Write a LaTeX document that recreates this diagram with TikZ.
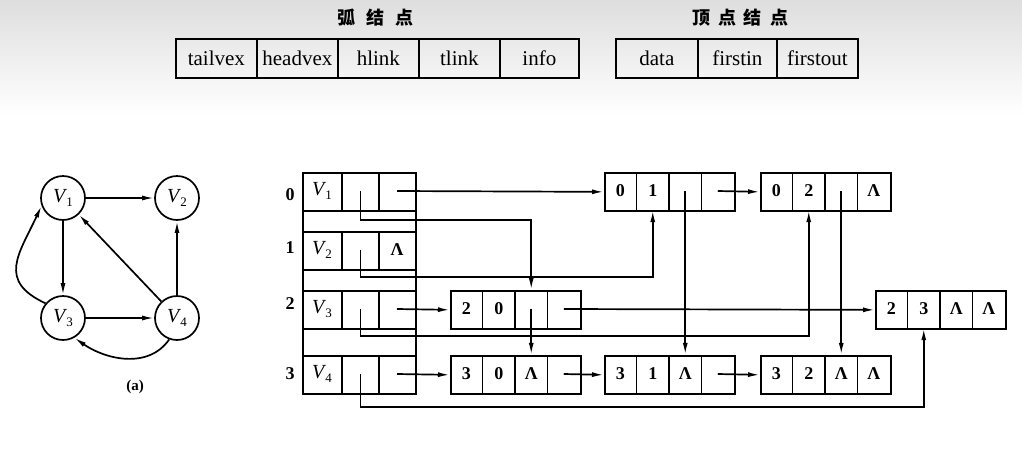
\documentclass[tikz,border=0pt]{standalone}
\usepackage{fontspec}
\setmainfont{Liberation Serif}
\newfontfamily\cjk{Noto Sans CJK SC}
\usetikzlibrary{arrows.meta}

\newcommand\NUL{\textbf{Λ}}
\newcommand\VV[1]{\textit{V}\kern-1pt\raisebox{-0.35ex}{\fontsize{13}{13}\selectfont #1}}
\newcommand\ListNode[7]{%
  \node[box, minimum width=130pt, minimum height=38pt, anchor=north west] (#1) at (#2,-#3) {};
  \foreach \k in {1,2,3}{\draw[ln] (#2+32.5*\k,-#3) -- (#2+32.5*\k,-#3-38);}
  \node[cellt, minimum width=32.5pt, dig] (#1-1) at (#2+16.25,-#3-19) {#4};
  \node[cellt, minimum width=32.5pt, dig] (#1-2) at (#2+48.75,-#3-19) {#5};
  \node[cellt, minimum width=32.5pt, dig] (#1-3) at (#2+81.25,-#3-19) {#6};
  \node[cellt, minimum width=32.5pt, dig] (#1-4) at (#2+113.75,-#3-19) {#7};
}
\newcommand\VRow[4]{%
  \node[box, minimum width=113pt, minimum height=38pt, anchor=north west] (#1) at (302,-#2) {};
  \draw[ln] (342,-#2) -- (342,-#2-38);
  \draw[ln] (379,-#2) -- (379,-#2-38);
  \node[cellt, minimum width=40pt, vlab] (#1-1) at (322,-#2-19) {#3};
  \node[cellt, minimum width=37pt] (#1-2) at (360.5,-#2-19) {};
  \node[cellt, minimum width=36pt, dig] (#1-3) at (397,-#2-19) {#4};
}

\begin{document}
\begin{tikzpicture}[x=1pt,y=1pt,
  box/.style={draw, line width=1.7pt, inner sep=0pt},
  cellt/.style={inner sep=0pt, minimum height=38pt},
  ln/.style={line width=1.7pt},
  ptr/.style={line width=1.7pt, -{Latex[length=12pt,width=5pt]}},
  vtx/.style={circle, draw, line width=1.7pt, minimum size=44pt, inner sep=0pt, font=\fontsize{20}{20}\selectfont},
  vlab/.style={font=\fontsize{20}{20}\selectfont},
  dig/.style={font=\fontsize{18}{18}\selectfont\bfseries},
  head/.style={box, minimum height=39pt, anchor=north west, font=\fontsize{21}{24}\selectfont},
  title/.style={font=\cjk\bfseries\fontsize{18}{18}\selectfont},
]
% background
\fill[white] (0,0) rectangle (1022,-453);
\shade[top color=black!13, bottom color=white] (0,0) rectangle (1022,-115);
\useasboundingbox (0,0) rectangle (1022,-453);

% top tables
\node[title] (t1) at (375,-18) {弧\hspace{11pt}结\hspace{11pt}点};
\node[title] (t2) at (740,-18) {顶\hspace{8pt}点\hspace{8pt}结\hspace{8pt}点};
\node[head, minimum width=81pt] (a1) at (175,-38) {tailvex};
\node[head, minimum width=81pt] (a2) at (256,-38) {headvex};
\node[head, minimum width=81pt] (a3) at (337,-38) {hlink};
\node[head, minimum width=81pt] (a4) at (418,-38) {tlink};
\node[head, minimum width=79pt] (a5) at (499,-38) {info};
\node[head, minimum width=82pt] (b1) at (615,-38) {data};
\node[head, minimum width=79pt] (b2) at (697,-38) {firstin};
\node[head, minimum width=81pt] (b3) at (776,-38) {firstout};

% graph (a)
\node[vtx] (V1) at (63,-198) {\VV{1}};
\node[vtx] (V2) at (177,-198) {\VV{2}};
\node[vtx] (V3) at (63,-318) {\VV{3}};
\node[vtx] (V4) at (177,-318) {\VV{4}};
\draw[ptr] (V1) -- (V2);
\draw[ptr] (V1) -- (V3);
\draw[ptr] (V3) -- (V4);
\draw[ptr] (V4) -- (V2);
\draw[ptr] (V4) -- (V1);
\draw[ptr] (V3.140) to[out=155,in=-115,looseness=1.4] (V1.200);
\draw[ptr] (V4.-110) to[out=-125,in=-35] (V3.-60);
\node[font=\fontsize{15}{15}\selectfont\bfseries] (cap) at (135,-387) {(a)};

% vertex table
\node[box, minimum width=113pt, minimum height=221pt, anchor=north west] (vt) at (302,-172) {};
\VRow{r0}{172}{\VV{1}}{}
\VRow{r1}{231}{\VV{2}}{\NUL}
\VRow{r2}{290}{\VV{3}}{}
\VRow{r3}{355}{\VV{4}}{}
\node[dig] (l0) at (290,-195) {0};
\node[dig] (l1) at (290,-248) {1};
\node[dig] (l2) at (290,-304) {2};
\node[dig] (l3) at (290,-374) {3};

% arc nodes
\ListNode{n01}{604}{172}{0}{1}{}{}
\ListNode{n02}{760}{172}{0}{2}{}{\NUL}
\ListNode{n20}{450}{290}{2}{0}{}{}
\ListNode{n23}{875}{290}{2}{3}{\NUL}{\NUL}
\ListNode{n30}{450}{355}{3}{0}{\NUL}{}
\ListNode{n31}{604}{355}{3}{1}{\NUL}{}
\ListNode{n32}{760}{355}{3}{2}{\NUL}{\NUL}

% pointers from vertex table
\draw[ptr] (r0-2.center) -- (r0-2.center |- 0,-220) -- (n20-3.north |- 0,-220) -- (n20-3.north);
\draw[ptr] (r0-3.center) -- (n01.west);
\draw[ptr] (r1-2.center) -- (r1-2.center |- 0,-277) -- (n01-2.south |- 0,-277) -- (n01-2.south);
\draw[ptr] (r2-2.center) -- (r2-2.center |- 0,-336) -- (n02-2.south |- 0,-336) -- (n02-2.south);
\draw[ptr] (r2-3.center) -- (n20.west);
\draw[ptr] (r3-2.center) -- (r3-2.center |- 0,-407) -- (n23-2.south |- 0,-407) -- (n23-2.south);
\draw[ptr] (r3-3.center) -- (n30.west);

% pointers between arc nodes
\draw[ptr] (n20-3.center) -- (n30-3.north);
\draw[ptr] (n20-4.center) -- (n23.west);
\draw[ptr] (n30-4.center) -- (n31.west);
\draw[ptr] (n01-3.center) -- (n31-3.north);
\draw[ptr] (n01-4.center) -- (n02.west);
\draw[ptr] (n02-3.center) -- (n32-3.north);
\draw[ptr] (n31-4.center) -- (n32.west);
\end{tikzpicture}
\end{document}
